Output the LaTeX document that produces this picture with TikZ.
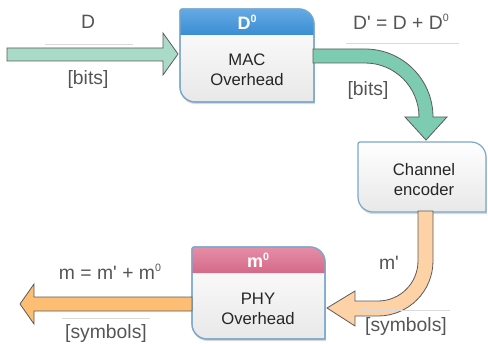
\documentclass[tikz,border=0pt]{standalone}
\usepackage{fontspec}
\setmainfont{Liberation Sans}
\usetikzlibrary{shadows}
\definecolor{greenA}{HTML}{A9DBC8}
\definecolor{greenB}{HTML}{7DCBB0}
\definecolor{orangeA}{HTML}{FDBE74}
\definecolor{orangeB}{HTML}{FDD2A6}
\definecolor{arrowline}{HTML}{5A5A5A}
\definecolor{boxline}{HTML}{7AA7CC}
\definecolor{blueTop}{HTML}{64AAE4}
\definecolor{blueBot}{HTML}{3A8DD3}
\definecolor{pinkTop}{HTML}{E68DA8}
\definecolor{pinkBot}{HTML}{D36A88}
\definecolor{labeltext}{HTML}{555555}
\definecolor{boxtext}{HTML}{262626}
\definecolor{rulegray}{HTML}{DADADA}
\newcommand{\supz}{\raisebox{0.75ex}{\fontsize{8}{8}\selectfont 0}}
\tikzset{
  blockarrow/.style={draw=arrowline, line width=0.6pt, line join=miter},
  boxbody/.style={draw=boxline, line width=0.9pt, top color=white, bottom color=black!9,
    drop shadow={shadow xshift=0.6pt, shadow yshift=-1.6pt, opacity=0.25, fill=black!60}},
  header/.style={line width=0pt},
  hdrtext/.style={text=white, font=\bfseries\fontsize{13.5}{15}\selectfont},
  boxlabel/.style={text=boxtext, align=center, font=\fontsize{12.5}{15}\selectfont},
  flowlabel/.style={text=labeltext, font=\fontsize{14.5}{16}\selectfont},
  labelrule/.style={draw=rulegray, line width=0.6pt}
}
\begin{document}
\begin{tikzpicture}[x=0.75pt,y=0.75pt]
\useasboundingbox (0,0) rectangle (488,343);

% ---- top-left arrow
\path[blockarrow, fill=greenA] (7,295) -- (163,295) -- (163,310) -- (178,289) -- (163,268) -- (163,282) -- (7,282) -- cycle;
\coordinate (r1a) at (45,299); \coordinate (r1b) at (133,299);
\draw[labelrule] (r1a) -- (r1b);
\node[flowlabel] (lD) at (88,321) {D};
\node[flowlabel] (lbits1) at (88,263) {[bits]};

% ---- MAC box
\path[boxbody] (182,334) -- (299,334) arc(90:0:15) -- (314,241) -- (195,241) arc(270:180:15) -- (180,332) arc(180:90:2) -- cycle;
\path[header, top color=blueTop, bottom color=blueBot] (182,334) -- (299,334) arc(90:0:15) -- (314,308) -- (180,308) -- (180,332) arc(180:90:2) -- cycle;
\draw[boxline, line width=0.9pt] (182,334) -- (299,334) arc(90:0:15) -- (314,241) -- (195,241) arc(270:180:15) -- (180,332) arc(180:90:2) -- cycle;
\node[hdrtext] (macH) at (247,321) {D\supz};
\node[boxlabel] (mac) at (247,273) {MAC\\Overhead};

% ---- green curved arrow
\path[blockarrow, fill=greenB] (313,294) -- (365,294) arc(90:0:68) -- (447,226) -- (426,203) -- (405,226) -- (419,226) arc(0:90:54) -- (313,280) -- cycle;
\coordinate (r2a) at (346,300); \coordinate (r2b) at (459,300);
\draw[labelrule] (r2a) -- (r2b);
\node[flowlabel] (lDp) at (401,321) {D\textquotesingle{} = D + D\supz};
\node[flowlabel] (lbits2) at (368,252) {[bits]};

% ---- Channel encoder
\path[boxbody] (360,201) -- (471,201) arc(90:0:15) -- (486,131) -- (373,131) arc(270:180:15) -- (358,199) arc(180:90:2) -- cycle;
\node[boxlabel] (enc) at (424,163) {Channel\\encoder};

% ---- orange curved arrow
\path[blockarrow, fill=orangeB] (418,132) -- (433,132) -- (433,82) arc(0:-90:55) -- (355,27) -- (355,17) -- (327,35) -- (355,52) -- (355,42) -- (378,42) arc(-90:0:40) -- cycle;
\node[flowlabel] (lmp) at (389,80) {m\textquotesingle};
\coordinate (r3a) at (360,33); \coordinate (r3b) at (450,33);
\draw[labelrule] (r3a) -- (r3b);
\node[flowlabel] (lsym2) at (406,17) {[symbols]};

% ---- PHY box
\path[boxbody] (194,96) -- (310,96) arc(90:0:15) -- (325,4) -- (207,4) arc(270:180:15) -- (192,94) arc(180:90:2) -- cycle;
\path[header, top color=pinkTop, bottom color=pinkBot] (194,96) -- (310,96) arc(90:0:15) -- (325,70) -- (192,70) -- (192,94) arc(180:90:2) -- cycle;
\draw[boxline, line width=0.9pt] (194,96) -- (310,96) arc(90:0:15) -- (325,4) -- (207,4) arc(270:180:15) -- (192,94) arc(180:90:2) -- cycle;
\node[hdrtext] (phyH) at (258,83) {m\supz};
\node[boxlabel] (phy) at (258,34) {PHY\\Overhead};

% ---- left orange arrow
\path[blockarrow, fill=orangeA] (192,46) -- (34,46) -- (34,59) -- (20,39) -- (34,19) -- (34,32) -- (192,32) -- cycle;
\node[flowlabel] (lm) at (110,71) {m = m\textquotesingle{} + m\supz};
\coordinate (r4a) at (62,25); \coordinate (r4b) at (150,25);
\draw[labelrule] (r4a) -- (r4b);
\node[flowlabel] (lsym1) at (106,10) {[symbols]};
\end{tikzpicture}
\end{document}
